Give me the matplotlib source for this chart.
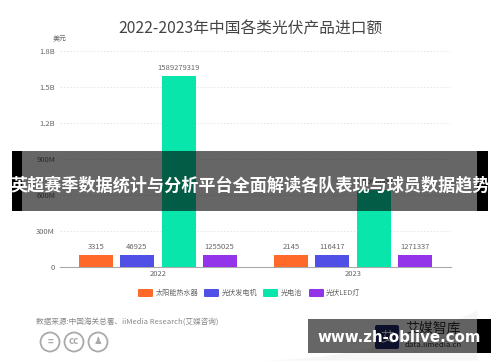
import numpy as np
import matplotlib
matplotlib.use("Agg")
import matplotlib.pyplot as plt
from matplotlib.patches import Circle, FancyBboxPatch, Rectangle

plt.rcParams['font.family'] = ['Noto Sans CJK SC', 'DejaVu Sans']

# Data
years = ["2022", "2023"]
series_names = ["太阳能热水器", "光伏发电机", "光电池", "光伏LED灯"]
series_colors = ["#FF6A2B", "#5050E6", "#08E6AC", "#9333EA"]
# bar heights as drawn in the source (small bars are not to scale with their labels)
solar_heater = [100e6, 100e6]
pv_generator = [100e6, 100e6]
pv_cell = [1589279319, 640e6]
pv_led = [100e6, 100e6]
# printed labels
solar_heater_labels = ["3315", "2145"]
pv_generator_labels = ["46925", "116417"]
pv_cell_labels = ["1589279319", "640000000"]
pv_led_labels = ["1255025", "1271337"]
y_ticks = [0, 300e6, 600e6, 900e6, 1.2e9, 1.5e9, 1.8e9]
y_tick_labels = ["0", "300M", "600M", "900M", "1.2B", "1.5B", "1.8B"]

title = "2022-2023年中国各类光伏产品进口额"
source = "数据来源:中国海关总署、iiMedia Research(艾媒咨询)"
banner = "英超赛季数据统计与分析平台全面解读各队表现与球员数据趋势"
site = "www.zh-oblive.com"

W, H = 500, 362
fig = plt.figure(figsize=(W / 100, H / 100), dpi=100, facecolor="white")

# Chart axes, placed in pixels
left, right, top, bottom = 60, 451, 51, 267
ax = fig.add_axes([left / W, 1 - bottom / H, (right - left) / W, (bottom - top) / H])
heights = [solar_heater, pv_generator, pv_cell, pv_led]
labels = [solar_heater_labels, pv_generator_labels, pv_cell_labels, pv_led_labels]
offsets = [-0.317, -0.107, 0.107, 0.317]
x = np.arange(len(years))
for h, lab, off, col in zip(heights, labels, offsets, series_colors):
    bars = ax.bar(x + off, h, width=0.174, color=col, zorder=3)
    ax.bar_label(bars, labels=lab, padding=3, fontsize=5.5, color="#666666")

ax.set_xlim(-0.5, 1.5)
ax.set_ylim(0, 1.8e9)
ax.set_xticks(x, years)
ax.set_yticks(y_ticks, y_tick_labels)
ax.tick_params(axis="y", length=0, labelsize=5.5, labelcolor="#666666", pad=3.5)
ax.tick_params(axis="x", length=0, labelsize=5.5, labelcolor="#666666", pad=2.5)
ax.grid(axis="y", color="#e4e4e4", linestyle=(0, (2, 2)), linewidth=0.6, zorder=0)
for s in ["top", "right", "left"]:
    ax.spines[s].set_visible(False)
ax.spines["bottom"].set_color("#aaaaaa")
ax.spines["bottom"].set_linewidth(0.8)

# Overlay axes in pixel coordinates for the page furniture
over = fig.add_axes([0, 0, 1, 1], facecolor="none")
over.set_xlim(0, W)
over.set_ylim(H, 0)
over.axis("off")

over.text(250, 29, title, fontsize=11.3, color="#444444", ha="center", va="center")
over.text(60, 38, "美元", fontsize=5, color="#666666", ha="center", va="center")

# Legend
for lx, tx, name, col in zip([138, 204, 263, 309], [156, 222, 281, 326], series_names, series_colors):
    over.add_patch(FancyBboxPatch((lx + 1, 290), 13, 6, boxstyle="round,pad=1", fc=col, ec="none"))
    over.text(tx, 293, name, fontsize=5.1, color="#666666", ha="left", va="center")

# Source and licence icons
over.text(36, 323, source, fontsize=5.5, color="#888888", ha="left", va="center")
for cx, mark in zip([50, 74, 98], ["=", "cc", "♟"]):
    over.add_patch(Circle((cx, 342), 9.5, fc="white", ec="#aaaaaa", lw=1.3))
    over.text(cx, 341.5, mark, fontsize=7, color="#aaaaaa", ha="center", va="center", fontweight="bold")

# Watermark swoosh and logo
sx = np.linspace(250, 477, 60)
over.fill_between(sx, 360 - 50 * ((sx - 250) / 227) ** 2.2, 360, color="#f6f6f6", lw=0, zorder=0.5)
over.add_patch(FancyBboxPatch((377, 327), 20, 20, boxstyle="round,pad=2", fc="#1f2a6b", ec="none"))
over.text(387, 337, "艾", fontsize=10, color="white", ha="center", va="center")
over.text(405, 329, "艾媒智库", fontsize=10, color="#333333", ha="left", va="center")
over.text(405, 345, "data.iimedia.cn", fontsize=5.6, color="#333333", ha="left", va="center")

# Translucent banners with opaque black ends
over.add_patch(Rectangle((12, 151), 476, 60, fc="black", alpha=0.6, ec="none", zorder=5))
over.add_patch(Rectangle((12, 151), 10, 60, fc="black", ec="none", zorder=5))
over.add_patch(Rectangle((477, 151), 11, 60, fc="black", ec="none", zorder=5))
over.text(250, 185, banner, fontsize=12.3, fontweight="bold", color="white", ha="center", va="center", zorder=6)

over.add_patch(Rectangle((308, 319), 183, 34, fc="black", alpha=0.6, ec="none", zorder=5))
over.add_patch(Rectangle((477, 319), 14, 34, fc="black", ec="none", zorder=5))
over.text(399, 337, site, fontsize=10.8, fontweight="bold", family="DejaVu Sans", color="white", ha="center", va="center", zorder=6)

fig.savefig("out.png", dpi=100)
